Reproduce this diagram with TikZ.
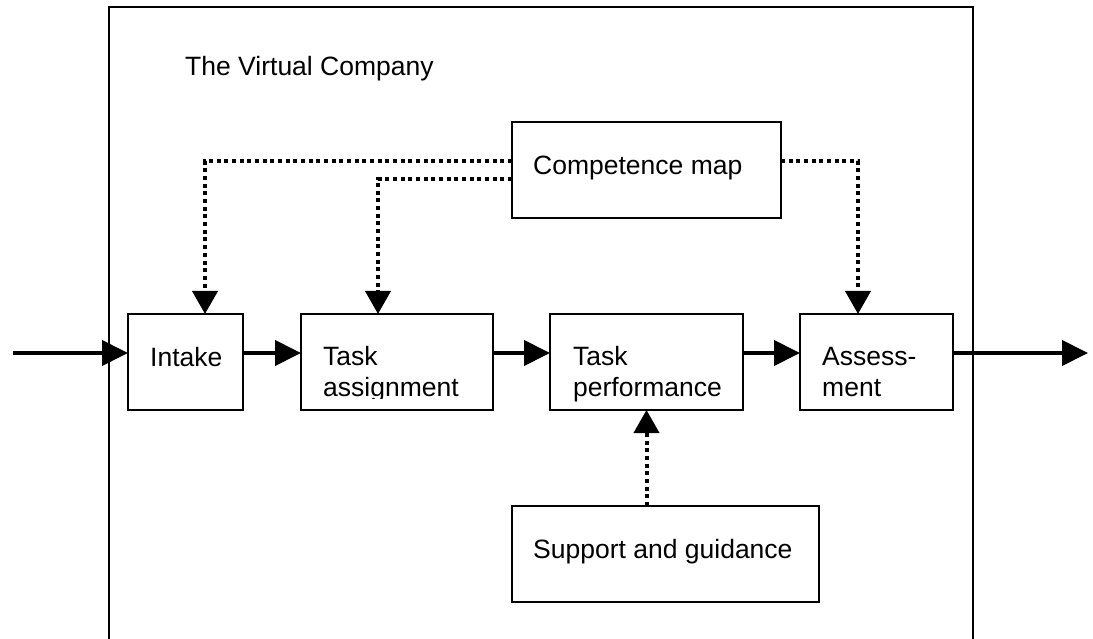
\documentclass[tikz,border=0pt]{standalone}
\usepackage{fontspec}
\setmainfont{Liberation Sans}
\usetikzlibrary{arrows.meta}
\begin{document}
\begin{tikzpicture}[x=1pt,y=-1pt,
  box/.style={draw=black,line width=1.3pt,inner sep=0pt,outer sep=0pt,minimum height=96pt},
  txt/.style={anchor=base west,inner sep=0pt,font=\fontsize{26.5}{31}\selectfont},
  flow/.style={line width=4pt,-{Triangle[length=26pt,width=25pt]}},
  dotarrow/.style={line width=4pt,dash pattern=on 4pt off 3.67pt,-{Triangle[length=23pt,width=25pt]}}]
\useasboundingbox (0,0) rectangle (1093,639);
\begin{scope}
\clip (0,0) rectangle (1093,639);
\node[draw=black,line width=2pt,inner sep=0pt,outer sep=0pt,minimum width=864pt,minimum height=673pt] (vc) at (541,343.5) {};
\end{scope}
\node[txt] (vctitle) at (185,76) {The Virtual Company};

\node[box,minimum width=115pt] (intake) at (185.5,362) {};
\node[box,minimum width=192pt] (assign) at (397,362) {};
\node[box,minimum width=193pt] (perf) at (646.5,362) {};
\node[box,minimum width=153pt] (assess) at (876.5,362) {};
\node[box,minimum width=269pt] (comp) at (646.5,170) {};
\node[box,minimum width=307pt] (support) at (665.5,554) {};

\node[txt] (intakeT) at (150,366) {Intake};
\node[txt] (assignT1) at (323,365) {Task};
\begin{scope}
\clip (301,314) rectangle (493,398.5);
\node[txt] (assignT2) at (323,396) {assignment};
\end{scope}
\node[txt] (perfT1) at (573,365) {Task};
\node[txt] (perfT2) at (573,396) {performance};
\node[txt] (assessT1) at (822,365) {Assess-};
\node[txt] (assessT2) at (822,396) {ment};
\node[txt] (compT) at (533,175) {Competence map};
\node[txt] (supportT) at (533,558) {Support and guidance};

\coordinate (in) at (13,353);
\coordinate (out) at (1088,353);
\draw[flow] (in) -- (in -| intake.west);
\draw[flow] (intake.east |- in) -- (assign.west |- in);
\draw[flow] (assign.east |- in) -- (perf.west |- in);
\draw[flow] (perf.east |- in) -- (assess.west |- in);
\draw[flow] (assess.east |- in) -- (out);

\draw[dotarrow] ([yshift=9pt]comp.west) -| ([xshift=19.5pt]intake.north);
\draw[dotarrow] ([yshift=-9pt]comp.west) -| ([xshift=-19pt]assign.north);
\draw[dotarrow] ([yshift=9pt]comp.east) -| ([xshift=-18.5pt]assess.north);
\draw[dotarrow] (support.north -| perf.south) -- (perf.south);
\end{tikzpicture}
\end{document}
